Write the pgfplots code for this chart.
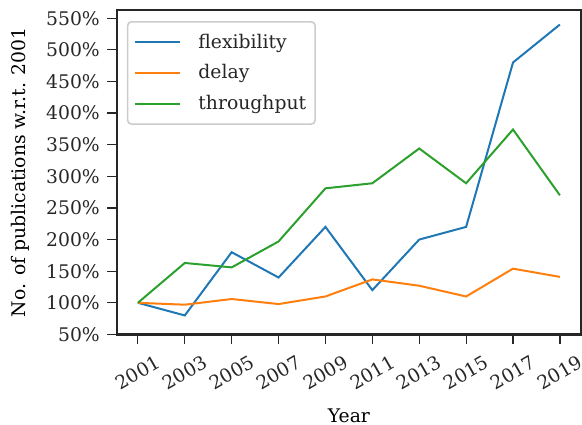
\documentclass[border=0pt]{standalone}
\usepackage{fontspec}
\setmainfont{DejaVu Serif}
\usepackage{pgfplots}
\pgfplotsset{compat=1.18}

\definecolor{tabblue}{HTML}{1F77B4}
\definecolor{taborange}{HTML}{FF7F0E}
\definecolor{tabgreen}{HTML}{2CA02C}
\definecolor{ink}{HTML}{262626}
\definecolor{legendedge}{HTML}{CCCCCC}

\begin{document}
\begin{tikzpicture}[font=\fontsize{9.4bp}{11bp}\selectfont]
\begin{axis}[
  at={(0,0)}, anchor=south west,
  scale only axis,
  width=232.5bp, height=162.5bp,
  xmin=2000.1, xmax=2019.9,
  ymin=50, ymax=563,
  xtick={2001,2003,...,2019},
  ytick={50,100,...,550},
  xtick pos=lower, ytick pos=left,
  /pgf/number format/assume math mode=true,
  xticklabel style={/pgf/number format/1000 sep=, rotate=30, anchor=center},
  xticklabel shift=14bp,
  yticklabel={\pgfmathprintnumber{\tick}\%},
  yticklabel style={anchor=east},
  tick align=outside,
  major tick length=5bp,
  tick style={ink, line width=0.6bp},
  axis line style={ink, line width=1.3bp},
  ticklabel style={text=ink},
  xlabel={Year},
  ylabel={No. of publications w.r.t. 2001},
  label style={text=ink},
  every axis x label/.style={at={(axis description cs:0.5,-0.25)}, anchor=center},
  every axis y label/.style={at={(axis description cs:-0.2086,0.5)}, rotate=90, anchor=center},
  legend cell align=left,
  legend style={
    at={(0.0215,0.966)}, anchor=north west,
    draw=legendedge, line width=0.8bp, rounded corners=2bp,
    fill=white, text=ink,
    inner xsep=3bp, inner ysep=4bp,
    row sep=2.7bp, column sep=7bp,
    nodes={inner xsep=1.5bp},
  },
  legend image code/.code={\draw[#1] (0bp,0bp) -- (23bp,0bp);},
  every axis plot/.append style={line width=1bp},
]
\addplot[tabblue] coordinates {
  (2001,100) (2003,80) (2005,180) (2007,140) (2009,220)
  (2011,120) (2013,200) (2015,220) (2017,480) (2019,540)
};
\addlegendentry{flexibility}
\addplot[taborange] coordinates {
  (2001,100) (2003,97) (2005,106) (2007,98) (2009,110)
  (2011,137) (2013,127) (2015,110) (2017,154) (2019,141)
};
\addlegendentry{delay}
\addplot[tabgreen] coordinates {
  (2001,100) (2003,163) (2005,156) (2007,197) (2009,281)
  (2011,289) (2013,344) (2015,289) (2017,374) (2019,270)
};
\addlegendentry{throughput}
\end{axis}
\pgfresetboundingbox
\path (-58.5bp,-45bp) rectangle (233bp,167.5bp);
\end{tikzpicture}
\end{document}
